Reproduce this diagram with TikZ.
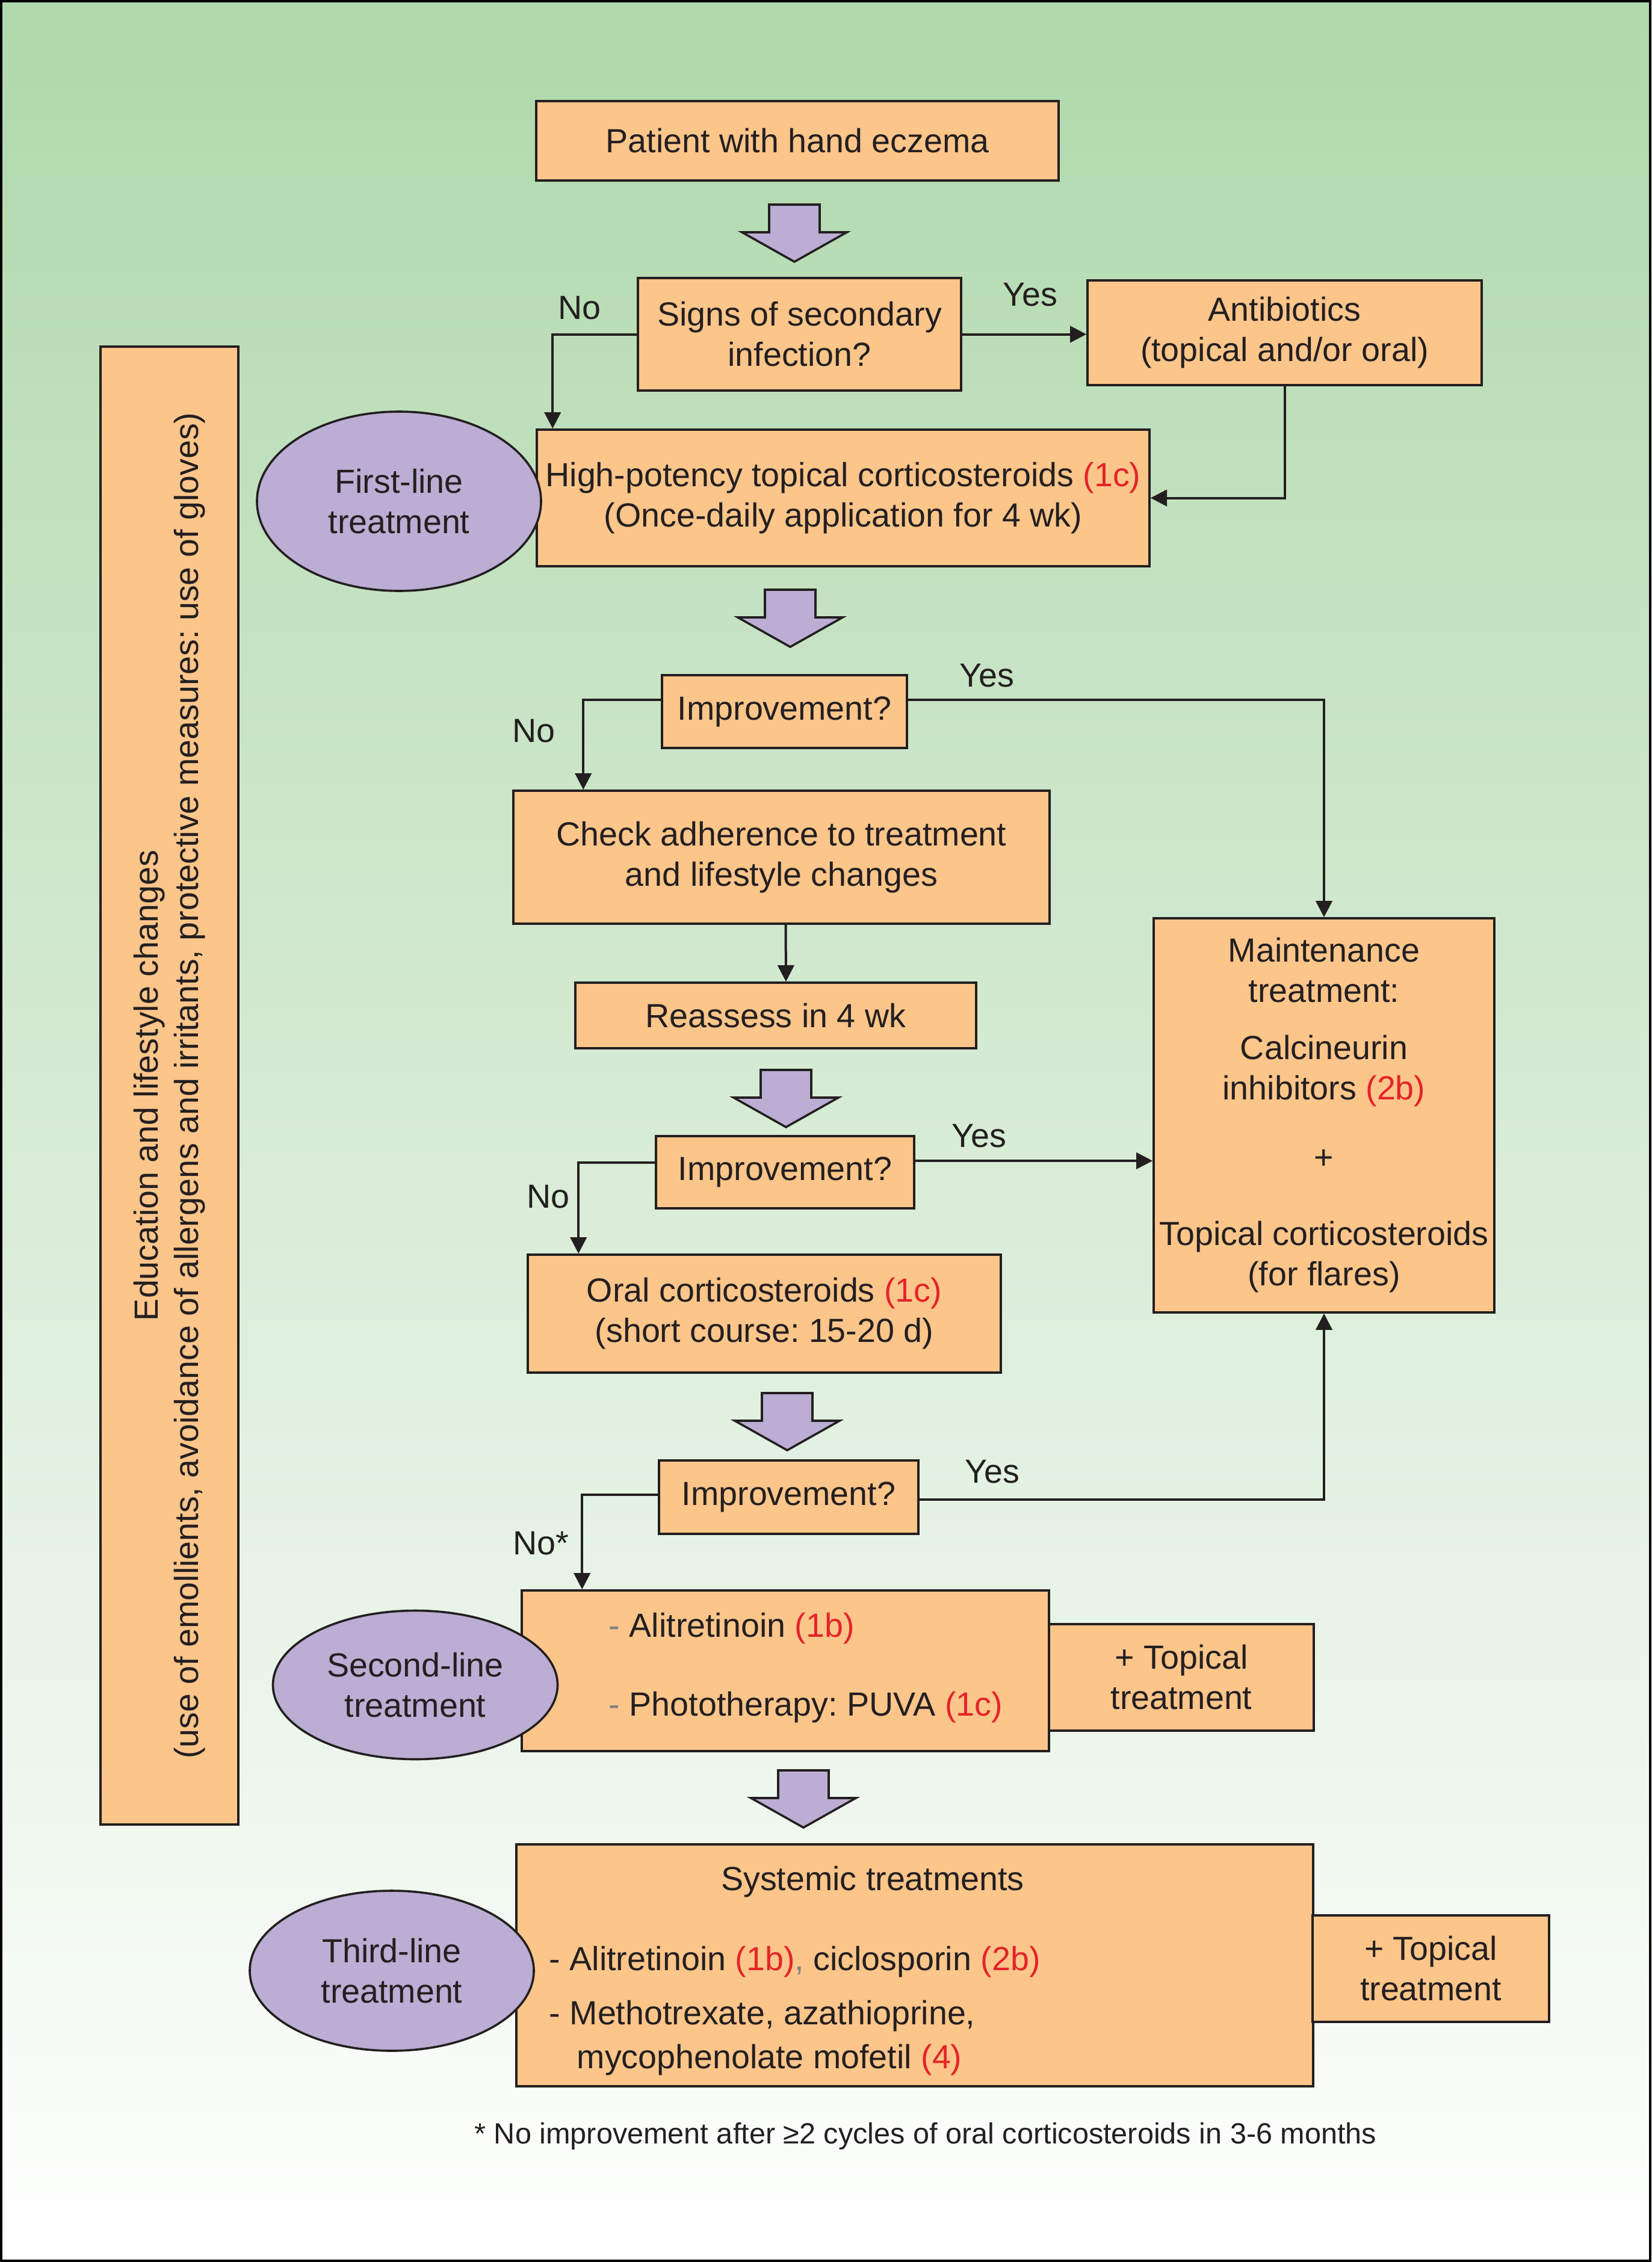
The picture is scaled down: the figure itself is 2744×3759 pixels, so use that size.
\documentclass[tikz,border=0pt]{standalone}
\usepackage{fontspec}
\setmainfont{Liberation Sans}
\usetikzlibrary{arrows.meta,shapes.geometric,calc}
\definecolor{peach}{RGB}{252,197,138}
\definecolor{lav}{RGB}{188,173,212}
\definecolor{bgtop}{RGB}{175,216,171}
\definecolor{refred}{RGB}{228,36,40}
\definecolor{dashgrey}{RGB}{128,128,128}
\definecolor{txt}{RGB}{35,31,32}
\definecolor{linecol}{RGB}{35,31,32}
\newcommand\mainsize{\fontsize{13.9pt}{16.75pt}\selectfont}
\newcommand\footsize{\fontsize{12.15pt}{14.6pt}\selectfont}
\newcommand\redref[1]{\textcolor{refred}{#1}}
\frenchspacing
\begin{document}
\begin{tikzpicture}[x=0.25pt,y=-0.25pt,
  box/.style={draw=linecol, line width=0.9pt, fill=peach, text=txt, align=center, inner sep=0pt, font=\mainsize},
  ell/.style={ellipse, draw=linecol, line width=0.9pt, fill=lav, text=txt, align=center, inner sep=0pt, font=\mainsize},
  lbl/.style={text=txt, inner sep=0pt, font=\mainsize},
  conn/.style={draw=linecol, line width=1pt, line join=miter, -{Triangle[length=6.8pt,width=6.8pt]}},
  fatarrow/.pic={\draw[fill=lav, draw=linecol, line width=0.9pt, line join=miter]
     (-42,0) -- (42,0) -- (42,46) -- (87,46) -- (0,95) -- (-87,46) -- (-42,46) -- cycle;}
]
\useasboundingbox (0,0) rectangle (2744,3759);
\shade[top color=bgtop, bottom color=white] (0,0) rectangle (2744,3759);
\draw[black, line width=1pt] (2,2) rectangle (2742,3757);

% left tall box
\node[box, rotate=90, minimum width=614pt, minimum height=57.25pt] (edu) at (281.5,1804)
  {Education and lifestyle changes\\(use of emollients, avoidance of allergens and irritants, protective measures: use of gloves)};

% boxes
\node[box, minimum width=217pt, minimum height=33pt] (patient) at (1325,234) {Patient with hand eczema};
\node[box, minimum width=134.25pt, minimum height=46.75pt] (signs) at (1328.5,555.5) {Signs of secondary\\infection?};
\node[box, minimum width=163.75pt, minimum height=43.5pt] (antib) at (2134.5,553) {Antibiotics\\(topical and/or oral)};
\node[box, minimum width=254.5pt, minimum height=56.75pt] (high) at (1401,827.5)
  {High-potency topical corticosteroids \redref{(1c)}\\(Once-daily application for 4 wk)};
\node[box, minimum width=101.75pt, minimum height=30.25pt] (imp1) at (1303.5,1182.5) {Improvement?};
\node[box, minimum width=222.75pt, minimum height=55.25pt] (check) at (1298.5,1424.5) {Check adherence to treatment\\and lifestyle changes};
\node[box, minimum width=166.5pt, minimum height=27.25pt] (reassess) at (1289,1687.5) {Reassess in 4 wk};
\node[box, minimum width=107.25pt, minimum height=30pt] (imp2) at (1304.5,1948) {Improvement?};
\node[box, minimum width=196.5pt, minimum height=49pt] (oral) at (1270,2183) {Oral corticosteroids \redref{(1c)}\\(short course: 15-20 d)};
\node[box, minimum width=107.75pt, minimum height=30.5pt] (imp3) at (1310.5,2488) {Improvement?};
\node[box, minimum width=219pt, minimum height=66.75pt] (second) at (1305,2776.5) {};
\node[box, minimum width=110pt, minimum height=44.25pt] (top2) at (1963,2787.5) {+ Topical\\treatment};
\node[box, minimum width=331pt, minimum height=100.5pt] (systemic) at (1520,3266) {};
\node[box, minimum width=98.25pt, minimum height=44.25pt] (top3) at (2377.5,3271.5) {+ Topical\\treatment};
\node[box, minimum width=141.5pt, minimum height=163.75pt] (maint) at (2200,1853.5)
  {Maintenance\\treatment:\\[7pt]Calcineurin\\inhibitors \redref{(2b)}\\[12pt]+\\[15pt]Topical corticosteroids\\(for flares)};

% texts inside second-line and systemic boxes
\node[lbl, anchor=west] (alit) at (1011,2706) {\textcolor{dashgrey}{-} Alitretinoin \redref{(1b)}};
\node[lbl, anchor=west] (photo) at (1011,2837) {\textcolor{dashgrey}{-} Phototherapy: PUVA \redref{(1c)}};
\node[lbl] (systitle) at (1450,3127) {Systemic treatments};
\node[lbl, anchor=west] (sys1) at (912,3260) {- Alitretinoin \redref{(1b)}\textcolor{dashgrey}{,} ciclosporin \redref{(2b)}};
\node[lbl, anchor=west] (sys2) at (912,3350) {- Methotrexate, azathioprine,};
\node[lbl, anchor=west] (sys3) at (958,3423) {mycophenolate mofetil \redref{(4)}};

% ellipses
\node[ell, minimum width=118pt, minimum height=74.5pt] (e1) at (663,833) {First-line\\treatment};
\node[ell, minimum width=118.25pt, minimum height=61.75pt] (e2) at (690,2800) {Second-line\\treatment};
\node[ell, minimum width=118pt, minimum height=66.5pt] (e3) at (651,3275) {Third-line\\treatment};

% fat arrows
\pic at (1320,340) {fatarrow};
\pic at (1313,980) {fatarrow};
\pic at (1306,1778) {fatarrow};
\pic at (1308,2315) {fatarrow};
\pic at (1335,2942) {fatarrow};

% connector start points
\coordinate (y1s) at ($(imp1.east)+(0,-19.5)$);
\coordinate (n1s) at ($(imp1.west)+(0,-20)$);
\coordinate (y2s) at ($(imp2.east)+(0,-19)$);
\coordinate (n2s) at ($(imp2.west)+(0,-16)$);
\coordinate (y3s) at ($(imp3.east)+(0,4)$);
\coordinate (n3s) at ($(imp3.west)+(0,-4)$);

% connectors
\draw[conn] (signs.east) -- (signs.east -| antib.west);
\draw[conn] (signs.west) -| ($(high.north west)+(28,0)$);
\draw[conn] (antib.south) |- (high.east);
\draw[conn] (y1s) -| (maint.north);
\draw[conn] (n1s) -| ($(check.north west)+(118,0)$);
\draw[conn] ($(check.south)+(7,0)$) -- ($(reassess.north)+(17,0)$);
\draw[conn] (y2s) -- (y2s -| maint.west);
\draw[conn] (n2s) -| ($(oral.north west)+(86,0)$);
\draw[conn] (y3s) -| (maint.south);
\draw[conn] (n3s) -| ($(second.north west)+(102,0)$);

% labels
\node[lbl] (yes1) at (1712,490) {Yes};
\node[lbl] (no1) at (963,512) {No};
\node[lbl] (yes2) at (1640,1123) {Yes};
\node[lbl] (no2) at (887,1215) {No};
\node[lbl] (yes3) at (1627,1888) {Yes};
\node[lbl] (no3) at (911,1989) {No};
\node[lbl] (yes4) at (1649,2446) {Yes};
\node[lbl] (no4) at (899,2565) {No*};

% footnote
\node[lbl, font=\footsize] (foot) at (1538,3550) {* No improvement after ≥2 cycles of oral corticosteroids in 3-6 months};
\end{tikzpicture}
\end{document}
